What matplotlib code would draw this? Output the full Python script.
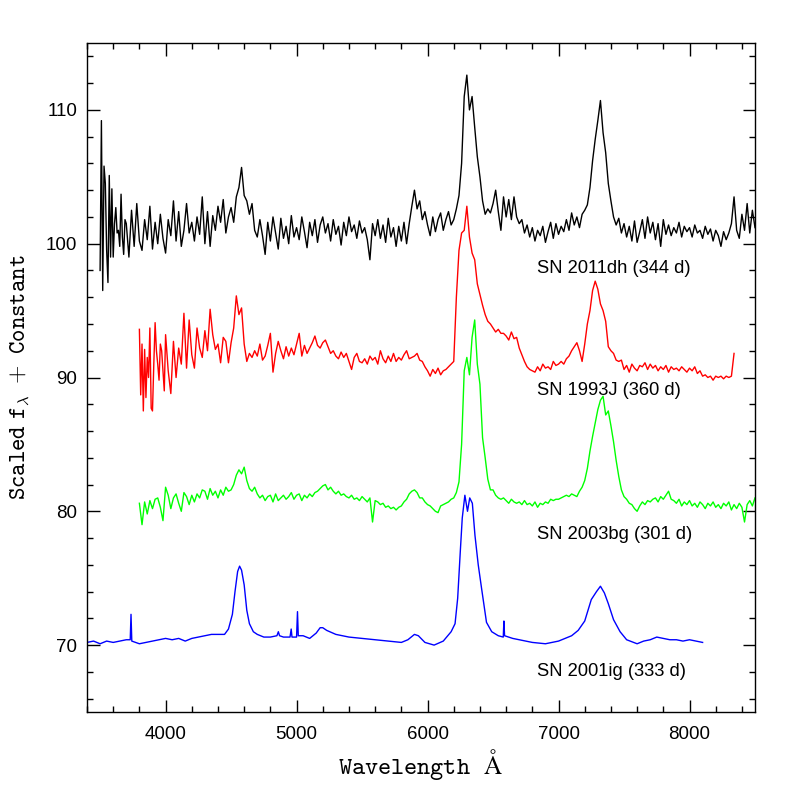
import matplotlib
matplotlib.use('Agg')
import matplotlib.pyplot as plt
import numpy as np
from matplotlib.ticker import MultipleLocator

plt.rcParams['mathtext.fontset'] = 'cm'

# SN 2011dh (344 d) -- black, pieces of (start wavelength, step, flux)
black_a = [98.0, 109.2, 96.5, 105.8, 104.5, 99.5, 97.1, 105.1, 99.0, 104.1,
           99.0, 101.5, 102.7, 100.8, 101.0, 99.8, 103.7, 100.5, 99.2, 101.8]
black_b = [101.5, 99.0, 102.5, 99.8, 103.0, 100.2, 99.5, 101.8, 100.3, 102.8,
           99.6, 101.6, 100.0, 102.2, 100.4, 99.3, 101.8, 100.6, 103.2, 100.2,
           102.4, 99.8, 101.0, 103.0, 100.8, 101.6, 100.2, 102.0, 100.7, 103.5,
           100.0, 102.4, 99.8, 102.1, 101.0, 102.8, 101.6, 103.3, 100.8, 102.0,
           102.7, 101.6, 103.5, 104.2, 105.7, 103.6, 103.2, 102.2, 103.0, 101.0]
black_c = [100.5, 101.8, 100.6, 99.2, 101.6, 100.2, 102.0, 100.8, 99.6, 101.9,
           100.4, 101.3, 100.0, 102.1, 100.5, 101.2, 100.3, 102.0, 100.9, 99.7,
           101.6, 100.6, 101.8, 100.1, 101.4, 102.0, 100.8, 101.5, 100.2, 101.8,
           100.7, 101.3, 99.9, 101.6, 100.6, 102.0, 100.9, 101.4, 100.4, 101.7,
           100.8, 101.2, 100.3, 98.8, 101.5, 100.6, 101.8, 100.4, 101.4, 100.1,
           101.9, 100.5, 101.2, 99.8, 101.3, 100.2, 101.6, 100.0, 101.5, 102.8,
           104.0, 102.6, 103.2, 101.8, 102.4]
black_d = [101.4, 100.6, 102.0, 100.9, 101.8, 102.3, 101.0, 101.8, 102.4, 101.4,
           101.8, 102.6, 103.6, 106.0, 111.0, 112.6, 110.0, 111.0, 108.7, 106.5,
           105.0, 103.2, 102.2, 102.6, 102.3, 103.0, 104.0, 102.4, 101.0, 103.5,
           102.0, 103.3, 101.8, 103.5, 102.0, 101.5, 101.8, 100.8, 101.4, 100.5,
           101.2, 100.2, 101.0, 100.6, 101.3, 100.1, 100.9, 101.6, 100.4, 101.5,
           100.7, 101.3, 100.9, 101.8, 101.0, 102.3, 101.4, 102.0, 101.2, 102.2,
           102.5, 102.9, 104.2, 106.2, 107.8, 109.2, 110.7, 108.3, 106.8, 104.5,
           103.2, 102.0, 101.4, 101.9, 100.8, 101.5, 100.5, 101.3, 100.2, 101.7,
           100.1, 100.9, 101.8, 100.4, 102.0, 100.8, 101.6, 100.3, 101.5, 99.8,
           101.8, 100.7, 101.4, 100.6, 101.2, 100.8, 101.6, 100.5, 101.3, 100.9,
           101.2, 100.5, 101.4, 100.8, 101.0, 100.4, 101.3, 100.7, 101.1, 100.2,
           101.0, 100.6, 99.8, 100.9, 100.3, 100.8, 101.5, 103.5, 101.0, 100.4,
           102.2, 101.0, 103.0, 100.8, 102.5, 101.2]

# SN 1993J (360 d) -- red
red_a = [93.6, 88.7, 92.5, 87.5, 92.1, 88.5, 91.5, 90.0, 93.7, 87.7,
         87.5, 91.0, 94.1, 92.0, 91.0, 89.8, 92.5, 92.0, 90.5, 89.0]
red_b = [93.2, 90.5, 88.8, 92.7, 90.0, 92.2, 91.0, 94.8, 90.7, 94.3,
         91.7, 90.7, 93.7, 92.2, 91.5, 93.5, 92.0, 95.1, 93.2, 92.1,
         92.5, 91.1, 93.0, 92.7, 91.1, 92.6, 93.7, 96.1, 94.7, 95.2,
         92.5, 91.2, 91.8, 91.5, 92.0, 91.6, 92.5, 91.3, 91.6, 92.4,
         93.3, 90.4, 91.8, 92.7, 92.0, 91.4, 92.3, 91.6, 92.2, 91.7,
         92.5, 93.3, 91.6, 92.4, 91.8, 92.2, 92.6, 93.1, 92.4, 92.2,
         92.6, 92.8, 92.3, 91.8, 92.0, 91.6, 91.4, 91.9, 91.5, 91.8,
         91.2, 90.6, 91.5, 91.8, 91.2, 91.1, 91.4, 91.0, 91.6, 91.3,
         91.5, 91.0, 92.0, 91.4, 91.1, 91.6, 91.2, 91.8, 91.2, 91.5,
         91.3, 91.7, 92.0, 91.4, 91.5, 91.6, 91.8, 91.3, 91.2, 90.8,
         90.5, 90.1, 90.6, 90.3, 90.7, 90.2, 90.5, 90.6, 90.8, 91.0]
red_c = [91.2, 96.0, 99.5, 100.8, 101.0, 102.8, 100.5, 99.3, 98.8, 97.0,
         96.2, 95.4, 94.7, 94.2, 94.0, 93.7, 93.4, 93.6, 93.3, 93.3,
         93.1, 92.8, 93.4, 92.9, 93.0, 92.2, 91.7, 91.2, 90.8, 90.6,
         90.5, 90.4, 90.8, 90.5, 91.0, 90.7, 90.8, 90.6, 91.2, 90.9,
         91.0, 91.2, 91.0, 91.4, 91.6, 92.0, 92.3, 92.6, 92.0, 91.2,
         92.5, 94.0, 95.0, 96.5, 97.2, 96.6, 95.5, 95.0, 94.2, 92.3,
         92.0, 91.8, 91.3, 91.2, 91.3, 90.6, 90.9, 90.4, 91.0, 90.7,
         90.5, 90.9, 90.8, 91.1, 90.6, 91.0, 90.7, 90.9, 90.5, 90.8,
         90.6, 90.9, 90.4, 90.8, 90.6, 90.7, 90.5, 90.8, 90.6, 90.4,
         90.7, 90.5, 90.8, 90.3, 90.5, 90.1, 90.2, 90.0, 90.1, 89.8,
         90.1, 90.0, 90.1, 89.9, 90.1, 90.0, 90.1, 91.8]

# SN 2003bg (301 d) -- green
green_a = [80.6, 79.0, 80.7, 79.8, 80.8, 80.2, 80.9, 81.0, 80.3, 79.3,
           81.8, 81.2, 80.2, 81.0, 81.3, 80.6, 80.0, 81.4, 81.1, 80.5,
           81.2, 80.7, 81.3, 81.0, 81.6, 81.5, 80.9, 81.7, 81.2, 81.5,
           81.0, 81.6, 81.2, 81.8, 81.5, 81.6, 82.0, 82.7, 83.1, 82.8,
           83.3, 82.3, 81.7, 81.5, 81.8, 81.3, 81.0, 81.2, 80.8, 81.1,
           81.2, 80.7, 81.3, 80.8, 81.0, 81.2, 80.9, 81.1, 81.4, 80.9,
           81.2, 81.3, 80.8, 81.2, 81.0, 81.3, 81.1, 81.4, 81.5, 81.7,
           81.9, 82.0, 81.6, 81.8, 81.5, 81.3, 81.5, 81.2, 81.3, 81.1,
           81.0, 81.2, 80.9, 81.0, 80.8, 81.1, 80.9, 80.7, 81.0, 79.2,
           80.8, 80.7, 80.5, 80.6, 80.3, 80.4, 80.2, 80.3, 80.1, 80.3,
           80.4, 80.7, 80.9, 81.3, 81.5, 81.6, 81.4, 81.0, 81.0, 80.7,
           80.5, 80.4, 80.2, 80.0, 79.9, 80.4, 80.5, 80.6, 80.7, 80.9]
green_b = [81.0, 81.4, 82.2, 85.0, 90.5, 91.5, 90.2, 93.0, 94.3, 91.0,
           89.5, 85.5, 84.0, 82.4, 81.6, 81.6, 81.2, 81.0, 80.9, 81.0,
           80.8, 80.6, 80.9, 80.7, 80.6, 80.7, 80.5, 80.8, 80.5, 80.6,
           80.4, 80.7, 80.3, 80.6, 80.5, 80.7, 80.6, 80.9, 80.8, 80.9,
           80.9, 81.0, 81.1, 81.2, 81.1, 81.3, 81.2, 81.1, 81.5, 81.8,
           82.3, 83.2, 84.5, 85.6, 86.6, 87.6, 88.3, 88.6, 87.2, 87.5,
           86.4, 85.2, 83.8, 82.6, 81.6, 81.1, 80.9, 80.6, 80.5, 80.2,
           80.0, 80.4, 80.7, 80.5, 80.8, 80.7, 80.9, 81.0, 80.7, 81.1,
           80.9, 81.2, 81.5, 80.9, 80.8, 80.6, 80.9, 80.4, 80.7, 80.5,
           80.8, 80.4, 80.6, 80.3, 80.7, 80.5, 80.2, 80.6, 80.4, 80.7,
           80.3, 80.5, 80.2, 80.6, 80.4, 80.7, 80.1, 80.5, 80.2, 80.6,
           80.3, 79.2, 80.5, 80.8, 80.4, 81.0]

# SN 2001ig (333 d) -- blue, smooth so given as explicit points
blue_wave = [3400, 3450, 3500, 3550, 3600, 3650, 3700, 3730, 3736, 3742,
             3800, 3850, 3900, 3950, 4000, 4050, 4100, 4150, 4200, 4250,
             4300, 4350, 4400, 4450, 4480, 4510, 4530, 4550, 4565, 4580,
             4600, 4620, 4640, 4670, 4700, 4750, 4800, 4850, 4861, 4870,
             4900, 4950, 4959, 4965, 5000, 5007, 5013, 5050, 5100, 5150,
             5180, 5200, 5230, 5300, 5400, 5500, 5600, 5700, 5800, 5850,
             5900, 5930, 5980, 6050, 6120, 6180, 6210, 6230, 6250, 6265,
             6285, 6305, 6322, 6342, 6362, 6387, 6413, 6450, 6490, 6540,
             6578, 6583, 6588, 6650, 6700, 6800, 6900, 7000, 7100, 7150,
             7200, 7250, 7290, 7320, 7350, 7380, 7420, 7470, 7520, 7600,
             7650, 7700, 7750, 7800, 7850, 7900, 7950, 8000, 8050, 8100]
blue_flux = [70.2, 70.3, 70.1, 70.3, 70.2, 70.3, 70.4, 70.4, 72.3, 70.3,
             70.1, 70.2, 70.3, 70.4, 70.5, 70.4, 70.5, 70.3, 70.5, 70.6,
             70.7, 70.8, 70.8, 70.8, 71.2, 72.3, 74.0, 75.5, 75.9, 75.6,
             74.5, 72.6, 71.6, 71.0, 70.8, 70.6, 70.6, 70.7, 71.0, 70.7,
             70.6, 70.6, 71.2, 70.6, 70.6, 72.5, 70.7, 70.7, 70.5, 70.9,
             71.3, 71.3, 71.1, 70.8, 70.6, 70.5, 70.4, 70.3, 70.2, 70.4,
             70.8, 70.7, 70.2, 70.0, 70.3, 71.0, 71.6, 73.5, 77.0, 79.5,
             81.2, 80.0, 81.0, 80.6, 78.2, 76.0, 74.2, 71.7, 71.0, 70.7,
             70.6, 71.8, 70.7, 70.5, 70.4, 70.2, 70.1, 70.3, 70.7, 71.1,
             71.8, 73.4, 74.0, 74.4, 73.9, 73.1, 71.9, 71.0, 70.4, 70.1,
             70.3, 70.4, 70.6, 70.5, 70.4, 70.4, 70.3, 70.4, 70.3, 70.2]

labels = ['SN 2011dh (344 d)', 'SN 1993J (360 d)', 'SN 2003bg (301 d)', 'SN 2001ig (333 d)']
label_y = [97.8, 88.7, 77.9, 67.7]


def join(pieces):
    w, f = [], []
    for start, step, vals in pieces:
        w += list(start + step * np.arange(len(vals)))
        f += vals
    return np.array(w), np.array(f)


bw, bf = join([(3500, 10, black_a), (3700, 20, black_b), (4700, 20, black_c), (6000, 20, black_d)])
rw, rf = join([(3800, 10, red_a), (4000, 20, red_b), (6200, 20, red_c)])
gw, gf = join([(3800, 20, green_a), (6200, 20, green_b)])

fig = plt.figure(figsize=(7.97, 7.97), dpi=100)
ax = fig.add_axes([87 / 797, 85 / 797, 668 / 797, 669 / 797])

ax.plot(bw, bf, color='black', lw=1.0)
ax.plot(rw, rf, color='#ff0000', lw=1.0)
ax.plot(gw, gf, color='#00ff00', lw=1.0)
ax.plot(blue_wave, blue_flux, color='#0000ff', lw=1.0)

for t, y in zip(labels, label_y):
    ax.text(6835, y, t, fontsize=13.2, family='Liberation Sans', va='baseline', ha='left')

ax.set_xlim(3400, 8500)
ax.set_ylim(65, 115)
ax.xaxis.set_major_locator(MultipleLocator(1000))
ax.xaxis.set_minor_locator(MultipleLocator(200))
ax.yaxis.set_major_locator(MultipleLocator(10))
ax.yaxis.set_minor_locator(MultipleLocator(2))
ax.tick_params(which='both', direction='in', top=True, right=True, width=1)
ax.tick_params(which='major', length=9, labelsize=13.5, pad=10)
ax.tick_params(which='minor', length=4.5)
ax.tick_params(axis='y', which='major', pad=7)
for lab in ax.get_xticklabels() + ax.get_yticklabels():
    lab.set_family('Liberation Sans')
for s in ax.spines.values():
    s.set_linewidth(1)

ax.set_xlabel(r'$\mathtt{Wavelength\ \ \AA}$', fontsize=18, labelpad=3)
ax.set_ylabel(r'$\mathtt{Scaled\ f_{\lambda}\ +\ Constant}$', fontsize=17, labelpad=11)

fig.savefig('out.png', dpi=100)
